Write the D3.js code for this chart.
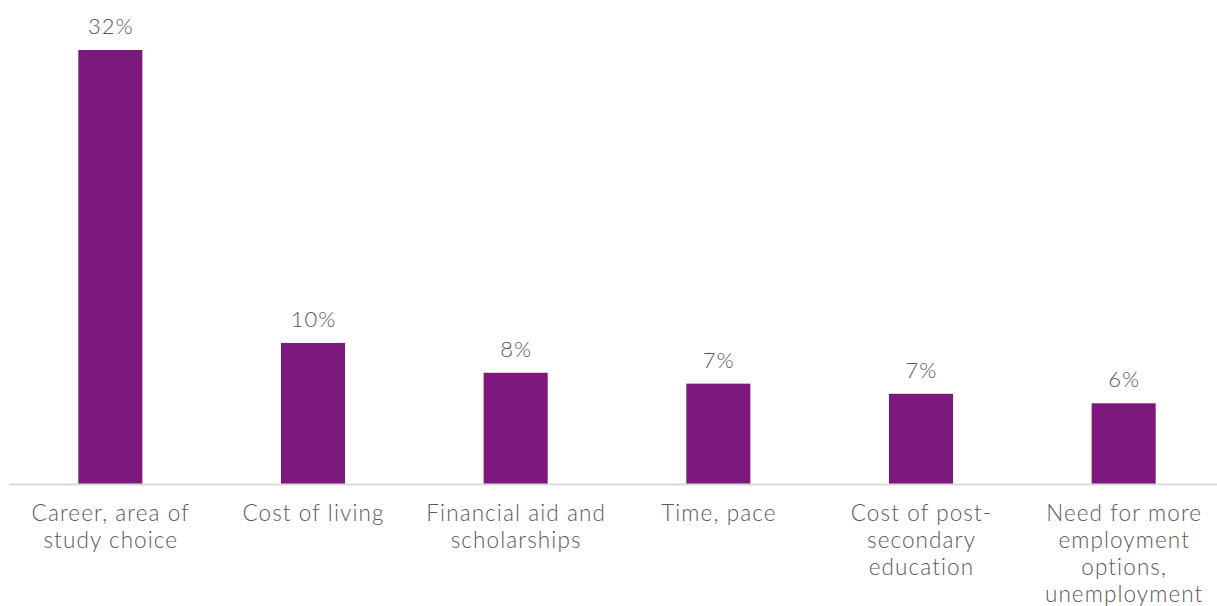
<!DOCTYPE html>
<html>
<head>
<meta charset="utf-8">
<script src="https://cdn.jsdelivr.net/npm/d3@7"></script>
<style>
  html, body { margin: 0; padding: 0; background: #fff; }
  svg { display: block; }
  text { font-family: Lato, "Open Sans", sans-serif; font-weight: 300; fill: #595959; }
</style>
</head>
<body>
<svg id="chart" width="1217" height="606"></svg>
<script>
const categories = [
  ["Career, area of", "study choice"],
  ["Cost of living"],
  ["Financial aid and", "scholarships"],
  ["Time, pace"],
  ["Cost of post-", "secondary", "education"],
  ["Need for more", "employment", "options,", "unemployment"]
];
const values = [32.0, 10.4, 8.2, 7.4, 6.65, 5.95];
const valueLabels = ["32%", "10%", "8%", "7%", "7%", "6%"];

const svg = d3.select("#chart");
const baseline = 484;

const x = d3.scaleBand()
  .domain(d3.range(categories.length))
  .range([9, 1225])
  .paddingInner(0.684)
  .paddingOuter(0.342);

const y = d3.scaleLinear().domain([0, 32]).range([baseline, 50]);

svg.append("g").selectAll("rect")
  .data(values)
  .join("rect")
  .attr("x", (d, i) => x(i))
  .attr("y", d => y(d))
  .attr("width", x.bandwidth())
  .attr("height", d => baseline - y(d))
  .attr("fill", "#7B1A7C");

svg.append("line")
  .attr("x1", 9).attr("x2", 1217)
  .attr("y1", baseline + 0.5).attr("y2", baseline + 0.5)
  .attr("stroke", "#D9D9D9").attr("stroke-width", 2);

svg.append("g").selectAll("text")
  .data(values)
  .join("text")
  .attr("x", (d, i) => x(i) + x.bandwidth() / 2 + 0.5)
  .attr("y", d => y(d) - 16)
  .attr("text-anchor", "middle")
  .attr("font-size", 22)
  .attr("letter-spacing", 1)
  .text((d, i) => valueLabels[i]);

const cat = svg.append("g").selectAll("text")
  .data(categories)
  .join("text")
  .attr("x", (d, i) => x(i) + x.bandwidth() / 2)
  .attr("y", 521)
  .attr("text-anchor", "middle")
  .attr("font-size", 22.5)
  .attr("letter-spacing", 1.1);

cat.selectAll("tspan")
  .data((d, i) => d.map(t => ({t, i})))
  .join("tspan")
  .attr("x", d => x(d.i) + x.bandwidth() / 2 + 0.5)
  .attr("dy", (d, j) => j === 0 ? 0 : 27)
  .text(d => d.t);
</script>
</body>
</html>
